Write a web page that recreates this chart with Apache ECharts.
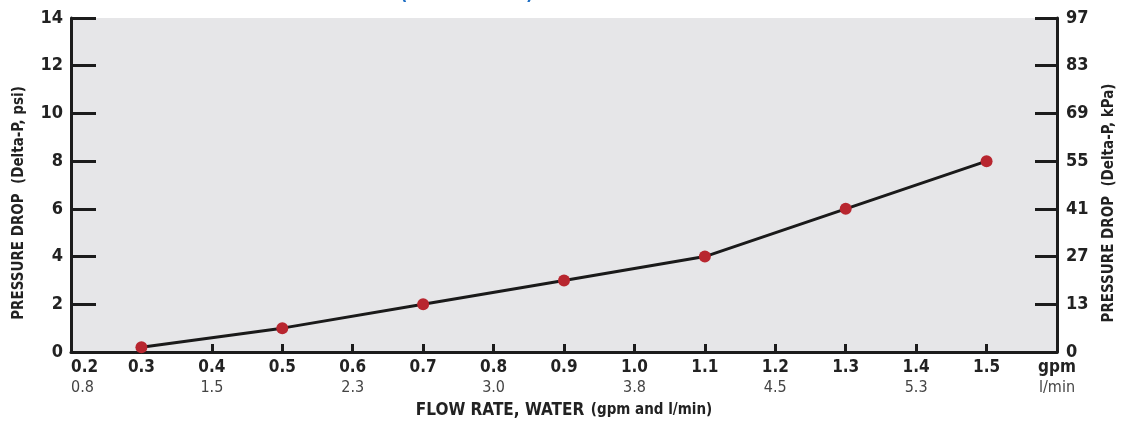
<!DOCTYPE html>
<html>
<head>
<meta charset="utf-8">
<script src="https://cdn.jsdelivr.net/npm/echarts@6/dist/echarts.min.js"></script>
<style>
html,body{margin:0;padding:0;background:#fff;}
#chart{width:1125px;height:423px;}
</style>
</head>
<body>
<div id="chart"></div>
<script>
// Data
const flowGpm = [0.3, 0.5, 0.7, 0.9, 1.1, 1.3, 1.5];
const pressurePsi = [0.2, 1, 2, 3, 4, 6, 8];
const xTickGpm = ['0.2','0.3','0.4','0.5','0.6','0.7','0.8','0.9','1.0','1.1','1.2','1.3','1.4','1.5','gpm'];
const xTickLpm = ['0.8','','1.5','','2.3','','3.0','','3.8','','4.5','','5.3','','l/min'];
const yTickPsi = ['0','2','4','6','8','10','12','14'];
const yTickKpa = ['0','13','27','41','55','69','83','97'];

const FONT = '"Liberation Sans Narrow", "DejaVu Sans Condensed", "Liberation Sans", sans-serif';
const chart = echarts.init(document.getElementById('chart'), null, {renderer: 'canvas'});

const xIdx = v => Math.round((v - 0.2) / 0.1);

chart.setOption({
  animation: false,
  backgroundColor: '#ffffff',
  grid: {left: 71, right: 68, top: 18, bottom: 71, show: true, backgroundColor: '#e6e6e8', borderWidth: 0,
         containLabel: false, outerBoundsMode: 'none'},
  graphic: [
    {type: 'text', left: 400, top: -14, style: {text: '(', fill: '#1f6fc4', font: 'bold 18px ' + FONT}},
    {type: 'text', left: 526, top: -14, style: {text: ')', fill: '#1f6fc4', font: 'bold 18px ' + FONT}}
  ],
  xAxis: {
    type: 'value', min: 0.2, max: 1.6, interval: 0.1,
    axisLine: {show: true, onZero: false, lineStyle: {color: '#1c1c1c', width: 3}},
    axisTick: {show: true, inside: true, length: 8, lineStyle: {color: '#1c1c1c', width: 3}},
    splitLine: {show: false},
    axisLabel: {
      margin: 6,
      alignMinLabel: 'left',
      formatter: v => {
        const i = xIdx(v);
        const a = xTickGpm[i] || '';
        const b = xTickLpm[i] || '';
        return '{a|' + a + '}\n{b|' + (b || ' ') + '}';
      },
      rich: {
        a: {fontFamily: FONT, fontWeight: 'bold', fontSize: 17, color: '#222', lineHeight: 20},
        b: {fontFamily: FONT, fontWeight: 'normal', fontSize: 16, color: '#444', lineHeight: 20}
      }
    },
    name: '{t|FLOW RATE, WATER}  {s|(gpm and l/min)}',
    nameLocation: 'middle',
    nameGap: 50,
    nameTextStyle: {
      rich: {
        t: {fontFamily: FONT, fontWeight: 'bold', fontSize: 17, color: '#222'},
        s: {fontFamily: FONT, fontWeight: 'bold', fontSize: 15, color: '#222'}
      }
    }
  },
  yAxis: [
    {
      type: 'value', min: 0, max: 14, interval: 2, position: 'left',
      axisLine: {show: true, lineStyle: {color: '#1c1c1c', width: 3}},
      axisTick: {show: true, inside: true, length: 25, lineStyle: {color: '#1c1c1c', width: 3}},
      splitLine: {show: false},
      axisLabel: {
        margin: 8,
        formatter: v => yTickPsi[Math.round(v / 2)],
        fontFamily: FONT, fontWeight: 'bold', fontSize: 18, color: '#222'
      },
      name: 'PRESSURE DROP  (Delta-P, psi)',
      nameLocation: 'middle',
      nameRotate: 90,
      nameGap: 44,
      nameTextStyle: {fontFamily: FONT, fontWeight: 'bold', fontSize: 15, color: '#222', padding: [0, 36, 0, 0]}
    },
    {
      type: 'value', min: 0, max: 14, interval: 2, position: 'right',
      axisLine: {show: true, lineStyle: {color: '#1c1c1c', width: 3}},
      axisTick: {show: true, inside: true, length: 22, lineStyle: {color: '#1c1c1c', width: 3}},
      splitLine: {show: false},
      axisLabel: {
        margin: 9,
        formatter: v => yTickKpa[Math.round(v / 2)],
        fontFamily: FONT, fontWeight: 'bold', fontSize: 18, color: '#222'
      },
      name: 'PRESSURE DROP  (Delta-P, kPa)',
      nameLocation: 'middle',
      nameRotate: 90,
      nameGap: 45,
      nameTextStyle: {fontFamily: FONT, fontWeight: 'bold', fontSize: 15, color: '#222', padding: [0, 36, 0, 0]}
    }
  ],
  series: [{
    type: 'line',
    data: flowGpm.map((x, i) => [x, pressurePsi[i]]),
    yAxisIndex: 0,
    symbol: 'circle',
    symbolSize: 12,
    showAllSymbol: true,
    clip: false,
    lineStyle: {color: '#1a1a1a', width: 3},
    itemStyle: {color: '#b8262f', borderWidth: 0}
  }]
});
</script>
</body>
</html>
